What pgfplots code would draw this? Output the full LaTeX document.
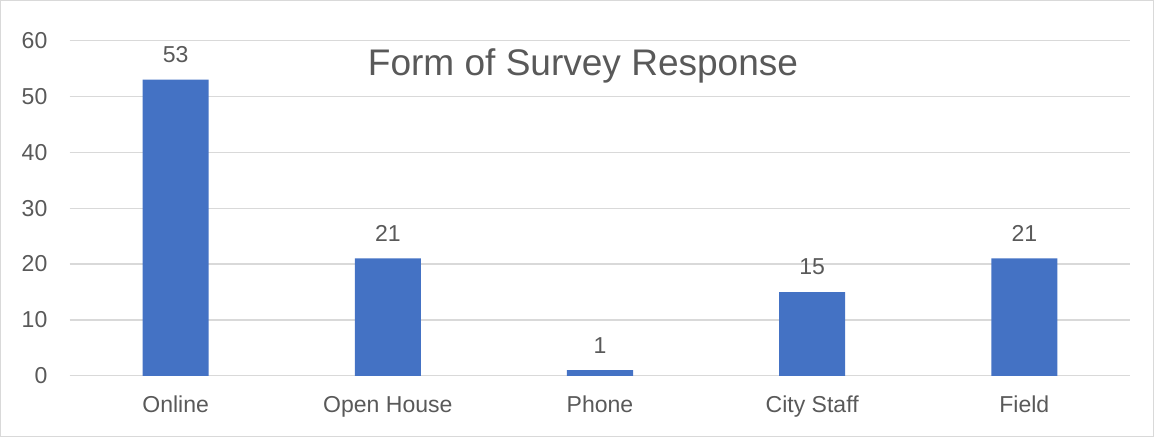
\documentclass[border=0pt]{standalone}
\usepackage{pgfplots}
\pgfplotsset{compat=1.18}
\usepackage{fontspec}
\setmainfont{Liberation Sans}
\definecolor{barblue}{RGB}{68,114,196}
\definecolor{txt}{RGB}{89,89,89}
\definecolor{gridc}{RGB}{217,217,217}
\begin{document}
\begin{tikzpicture}
\draw[gridc, line width=1pt] (-69pt,-61pt) rectangle (1083pt,375pt);
\begin{axis}[
  at={(0,0)}, anchor=south west,
  scale only axis, width=1060pt, height=335pt,
  xmin=-0.5, xmax=4.5, ymin=0, ymax=60,
  ytick={0,10,...,60},
  xtick=data,
  xticklabels={Online, Open House, Phone, City Staff, Field},
  axis line style={draw=none},
  major tick length=0pt,
  ymajorgrids, grid style={gridc, line width=1.2pt},
  /pgf/number format/assume math mode=true,
  yticklabel style={font=\fontsize{23}{23}\selectfont, text=txt, anchor=east, inner sep=0pt, xshift=-22pt},
  xticklabel style={font=\fontsize{23}{23}\selectfont, text=txt, anchor=north, inner sep=0pt, yshift=-20pt},
  ybar, bar width=66pt, bar shift=0pt,
  nodes near coords,
  nodes near coords style={font=\fontsize{23}{23}\selectfont, text=txt, anchor=south, inner sep=0pt, yshift=17pt},
  clip=false,
]
\addplot[fill=barblue, draw=none] coordinates {(0,53) (1,21) (2,1) (3,15) (4,21)};
\end{axis}
\node[anchor=base, font=\fontsize{37}{37}\selectfont, text=txt] at (513pt,300pt) {Form of Survey Response};
\end{tikzpicture}
\end{document}
